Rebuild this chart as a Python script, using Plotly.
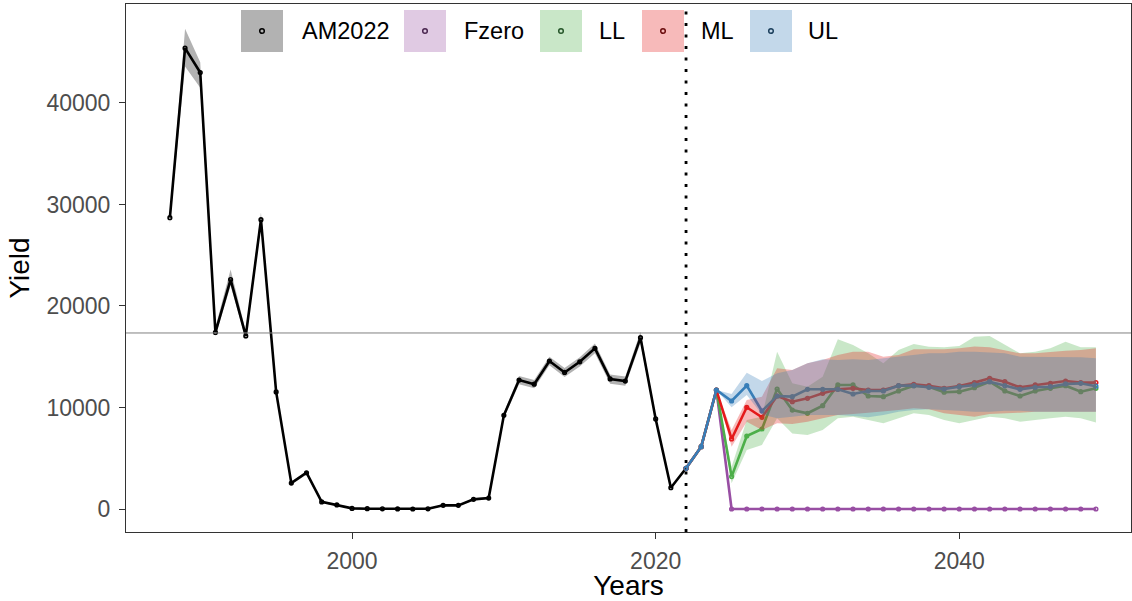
import plotly.graph_objects as go

# ---------------- data ----------------
years_hist = list(range(1988, 2023))
am2022 = [28700, 45400, 43000, 17400, 22600, 17050, 28500, 11530, 2550, 3570,
          700, 400, 60, 30, 20, 10, 0, 20, 360, 360,
          950, 1080, 9230, 12700, 12300, 14580, 13450, 14500, 15830, 12810,
          12600, 16880, 8870, 2100, 4010]
am2022_lo = [28100, 43600, 41500, 17000, 22000, 16700, 27900, 11300, 2400, 3400,
             600, 330, 30, 10, 5, 0, 0, 5, 300, 300,
             850, 980, 8950, 12300, 11900, 14150, 13000, 14050, 15350, 12350,
             12150, 16350, 8650, 2000, 3950]
am2022_hi = [29100, 47300, 44000, 17900, 23600, 17500, 29200, 11800, 2700, 3750,
             800, 470, 90, 50, 35, 20, 10, 35, 420, 420,
             1050, 1180, 9500, 13100, 12700, 15000, 13900, 14950, 16300, 13250,
             13050, 17450, 9100, 2200, 4070]

years_proj = list(range(2022, 2050))
fzero = [4010, 6140, 11720] + [0] * 25
ll = [4010, 6140, 11720, 3190, 7190, 7880, 11820, 9750, 9430, 10180, 12220, 12220,
      11130, 11070, 11630, 12150, 12050, 11500, 11560, 11950, 12540, 11630, 11130,
      11630, 11890, 12150, 11560, 11890]
ll_lo = [4010, 6140, 11720, 2530, 5810, 6310, 8930, 7450, 7290, 7780, 8930, 9100,
         8770, 8440, 8930, 9430, 9260, 8770, 8440, 8770, 9100, 8930, 8600, 8770,
         8930, 9100, 8930, 8510]
ll_hi = [4010, 6140, 11720, 4170, 8770, 9100, 15500, 12380, 12050, 13040, 16720, 16160,
         15340, 14350, 15660, 16260, 15990, 15930, 16060, 16980, 17050, 16160, 15340,
         15500, 15830, 16470, 15930, 15930]
ml = [4010, 6140, 11720, 6900, 10020, 9030, 11130, 10570, 10900, 11400, 11790, 11890,
      11720, 11720, 12150, 12280, 12150, 11890, 12120, 12450, 12870, 12540, 11990,
      12220, 12380, 12610, 12450, 12450]
ml_lo = [4010, 6140, 11720, 6140, 8600, 7780, 8440, 8370, 8600, 8930, 9260, 9360,
         9490, 9590, 9750, 9920, 9820, 9430, 9260, 9100, 9360, 9430, 9490, 9590,
         9590, 9590, 9590, 9590]
ml_hi = [4010, 6140, 11720, 7780, 10740, 11070, 13860, 13690, 14350, 14680, 15170, 15500,
         15500, 15010, 15170, 15730, 15730, 15730, 15830, 16000, 15930, 15660, 15340,
         15340, 15500, 15600, 15660, 15830]
ul = [4010, 6140, 11720, 10640, 12150, 9650, 11130, 11070, 11790, 11790, 11790, 11330,
      11630, 11630, 12150, 12150, 11990, 11820, 12050, 12220, 12540, 12150, 11790,
      11990, 12050, 12320, 12380, 12100]
ul_lo = [4010, 6140, 11720, 10020, 11230, 9300, 8930, 9100, 9260, 9260, 9260, 9160,
         9030, 9260, 9590, 9750, 9820, 9750, 9690, 9590, 9590, 9690, 9690, 9590,
         9590, 9590, 9590, 9590]
ul_hi = [4010, 6140, 11720, 11330, 13430, 12610, 13370, 13690, 14350, 14750, 14680, 14750,
         14680, 14840, 15070, 15170, 15340, 15340, 15500, 15500, 15400, 15340, 15010,
         15010, 15010, 15010, 14940, 14840]

ref_yield = 17340
vline_year = 2022
series_names = ["AM2022", "Fzero", "LL", "ML", "UL"]
x_ticks = [2000, 2020, 2040]
y_ticks = [0, 10000, 20000, 30000, 40000]

# ---------------- styles ----------------
rgb = {"AM2022": (0, 0, 0), "Fzero": (152, 78, 163), "LL": (77, 175, 74),
       "ML": (228, 26, 28), "UL": (55, 126, 184)}
dot_col = {"AM2022": "#000000", "Fzero": "#4a2650", "LL": "#26562a",
           "ML": "#6b0d0e", "UL": "#1b3f5c"}
ALPHA = 0.3


def line_col(n):
    r, g, b = rgb[n]
    return f"rgb({r},{g},{b})"


def fill_col(n):
    r, g, b = rgb[n]
    return f"rgba({r},{g},{b},{ALPHA})"


data = {
    "AM2022": (years_hist, am2022, am2022_lo, am2022_hi),
    "Fzero": (years_proj, fzero, fzero, fzero),
    "LL": (years_proj, ll, ll_lo, ll_hi),
    "ML": (years_proj, ml, ml_lo, ml_hi),
    "UL": (years_proj, ul, ul_lo, ul_hi),
}

fig = go.Figure()

# lines + points first
for n in series_names:
    x, y, lo, hi = data[n]
    fig.add_trace(go.Scatter(
        x=x, y=y, mode="lines+markers", name=n, showlegend=False,
        line=dict(color=line_col(n), width=2.6),
        marker=dict(symbol="circle-open", size=3.6, color=line_col(n),
                    line=dict(width=1.6, color=line_col(n))),
        hoverinfo="skip"))

# ribbons on top
for n in series_names:
    x, y, lo, hi = data[n]
    fig.add_trace(go.Scatter(
        x=list(x) + list(x)[::-1], y=list(hi) + list(lo)[::-1],
        mode="lines", fill="toself", fillcolor=fill_col(n),
        line=dict(width=0, color="rgba(0,0,0,0)"), showlegend=False,
        hoverinfo="skip"))

# reference lines
fig.add_hline(y=ref_yield, line=dict(color="#808080", width=1))
fig.add_vline(x=vline_year, line=dict(color="black", width=2.8, dash="3px,8.5px"))

# ---------------- custom legend (ggplot style) ----------------
L, R, T, B = 126, 1131, 4, 532


def px(xp):
    return (xp - L) / (R - L)


def py(yp):
    return (B - yp) / (B - T)


legend_pos = {"AM2022": (241, 300), "Fzero": (404, 462), "LL": (540, 597),
              "ML": (642, 699), "UL": (750, 806)}
key_w = 42
k_top, k_bot = 10, 52
for n in series_names:
    kx, tx = legend_pos[n]
    fig.add_shape(type="rect", xref="paper", yref="paper",
                  x0=px(kx), x1=px(kx + key_w), y0=py(k_bot), y1=py(k_top),
                  fillcolor=fill_col(n), line=dict(width=0), layer="above")
    cx, cy = kx + key_w / 2, (k_top + k_bot) / 2
    fig.add_shape(type="circle", xref="paper", yref="paper",
                  x0=px(cx - 2.3), x1=px(cx + 2.3), y0=py(cy + 2.3), y1=py(cy - 2.3),
                  line=dict(color=dot_col[n], width=1.5), fillcolor="rgba(0,0,0,0)",
                  layer="above")
    fig.add_annotation(xref="paper", yref="paper", x=px(tx), y=py(cy),
                       xanchor="left", yanchor="middle", showarrow=False,
                       text=n, font=dict(family="Liberation Sans", size=23.5,
                                         color="black"))

axis_common = dict(showgrid=False, zeroline=False, showline=True, mirror=True,
                   linecolor="#333333", linewidth=1.1, ticks="outside", ticklen=6,
                   tickwidth=1.1, tickcolor="#333333",
                   tickfont=dict(family="Liberation Sans", size=23, color="#4D4D4D"))

fig.update_layout(
    width=1132, height=601,
    margin=dict(l=L, r=1132 - R, t=T, b=601 - B),
    paper_bgcolor="white", plot_bgcolor="white",
    xaxis=dict(range=[1985.11, 2051.31], tickvals=x_ticks,
               ticktext=[str(v) for v in x_ticks],
               title=dict(text="Years", font=dict(family="Liberation Sans", size=28,
                                                   color="black"), standoff=6),
               ticklabelstandoff=2, **axis_common),
    yaxis=dict(range=[-2266, 49750], tickvals=y_ticks,
               ticktext=[str(v) for v in y_ticks],
               title=dict(text="Yield", font=dict(family="Liberation Sans", size=28,
                                                   color="black"), standoff=8),
               ticklabelstandoff=4, **axis_common),
    showlegend=False,
)

fig.write_html("out.html")
